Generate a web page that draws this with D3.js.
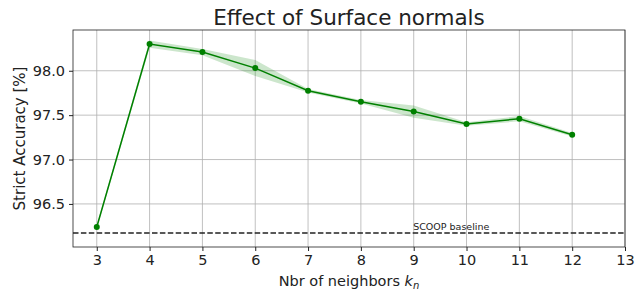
<!DOCTYPE html>
<html>
<head>
<meta charset="utf-8">
<script src="https://cdn.jsdelivr.net/npm/d3@7"></script>
<style>
  body { margin: 0; background: #fff; }
  text { font-family: "DejaVu Sans", sans-serif; fill: #222; }
</style>
</head>
<body>
<div id="chart"></div>
<script>
// Values.
const neighbors = [3, 4, 5, 6, 7, 8, 9, 10, 11, 12];
const accuracy = [96.24, 98.30, 98.21, 98.03, 97.775, 97.65, 97.54, 97.40, 97.46, 97.28];
const spread = [0.02, 0.04, 0.035, 0.09, 0.02, 0.02, 0.07, 0.02, 0.03, 0.02];
const baseline = 96.173;
const xTicks = [3, 4, 5, 6, 7, 8, 9, 10, 11, 12, 13];
const yTicks = [96.5, 97.0, 97.5, 98.0];

const margin = {top: 30, right: 16, bottom: 44, left: 73},
      width = 641 - margin.left - margin.right,
      height = 291 - margin.top - margin.bottom;

const svg = d3.select('#chart').append('svg')
    .attr('width', width + margin.left + margin.right)
    .attr('height', height + margin.top + margin.bottom);

const g = svg.append('g')
    .attr('transform', 'translate(' + margin.left + ',' + margin.top + ')');

const x = d3.scaleLinear()
    .domain([2.55, 13])
    .range([0, width]);

const y = d3.scaleLinear()
    .domain([96.015, 98.459])
    .range([height, 0]);

// Grid lines
g.append('g')
    .selectAll('line')
    .data(xTicks)
  .enter().append('line')
    .attr('x1', d => x(d)).attr('x2', d => x(d))
    .attr('y1', 0).attr('y2', height)
    .style('stroke', '#b0b0b0').style('stroke-width', 0.8);

g.append('g')
    .selectAll('line')
    .data(yTicks)
  .enter().append('line')
    .attr('x1', 0).attr('x2', width)
    .attr('y1', d => y(d)).attr('y2', d => y(d))
    .style('stroke', '#b0b0b0').style('stroke-width', 0.8);

const points = neighbors.map((k, i) => ({k: k, v: accuracy[i], s: spread[i]}));

const area = d3.area()
    .x(d => x(d.k))
    .y0(d => y(d.v - d.s))
    .y1(d => y(d.v + d.s));

g.append('path')
    .datum(points)
    .attr('d', area)
    .style('fill', 'green')
    .style('opacity', 0.2);

const line = d3.line()
    .x(d => x(d.k))
    .y(d => y(d.v));

g.append('path')
    .datum(points)
    .attr('d', line)
    .style('fill', 'none')
    .style('stroke', 'green')
    .style('stroke-width', 1.5);

g.selectAll('circle')
    .data(points)
  .enter().append('circle')
    .attr('cx', d => x(d.k))
    .attr('cy', d => y(d.v))
    .attr('r', 3)
    .style('fill', 'green');

// Baseline
g.append('line')
    .attr('x1', 0).attr('x2', width)
    .attr('y1', y(baseline)).attr('y2', y(baseline))
    .style('stroke', '#222')
    .style('stroke-width', 1.5)
    .style('stroke-dasharray', '5.5,2.4');

g.append('text')
    .attr('x', x(9) - 0.5)
    .attr('y', y(baseline) - 3)
    .style('font-size', '9.5px')
    .text('SCOOP baseline');

// Axes
const xAxis = d3.axisBottom(x)
    .tickValues(xTicks)
    .tickSize(4)
    .tickPadding(4)
    .tickFormat(d => d);

const yAxis = d3.axisLeft(y)
    .tickValues(yTicks)
    .tickSize(4)
    .tickPadding(4)
    .tickFormat(d3.format('.1f'));

g.append('g')
    .attr('transform', 'translate(0,' + height + ')')
    .call(xAxis)
    .call(a => a.select('.domain').remove())
    .selectAll('text')
    .style('font-size', '14.5px');

g.append('g')
    .call(yAxis)
    .call(a => a.select('.domain').remove())
    .selectAll('text')
    .style('font-size', '14.5px');

g.selectAll('.tick line').style('stroke', '#222');

g.append('rect')
    .attr('width', width).attr('height', height)
    .style('fill', 'none')
    .style('stroke', '#222')
    .style('stroke-width', 0.8);

// Labels
svg.append('text')
    .attr('x', margin.left + width / 2)
    .attr('y', 25)
    .attr('text-anchor', 'middle')
    .style('font-size', '21.5px')
    .text('Effect of Surface normals');

const xl = svg.append('text')
    .attr('x', margin.left + width / 2)
    .attr('y', 286)
    .attr('text-anchor', 'middle')
    .style('font-size', '14.5px');
xl.append('tspan').text('Nbr of neighbors ');
xl.append('tspan').style('font-style', 'italic').text('k');
xl.append('tspan').style('font-style', 'italic').style('font-size', '10px')
    .attr('dy', 3).text('n');

svg.append('text')
    .attr('transform', 'translate(25,' + (margin.top + height / 2) + ') rotate(-90)')
    .attr('text-anchor', 'middle')
    .style('font-size', '15px')
    .text('Strict Accuracy [%]');
</script>
</body>
</html>
